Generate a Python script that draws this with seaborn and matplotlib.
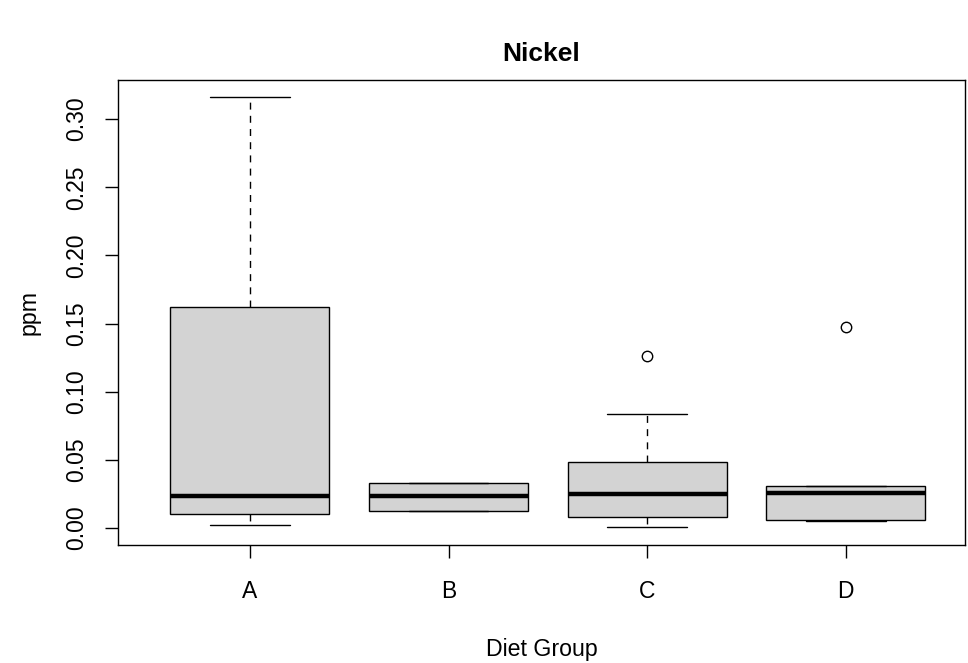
import matplotlib
matplotlib.use("Agg")
import matplotlib.pyplot as plt
import seaborn as sns
import pandas as pd

# values (ppm), one small sample per diet group
groups = ["A", "B", "C", "D"]
group_a = [0.0022, 0.0105, 0.0232, 0.162, 0.3165]
group_b = [0.0128, 0.0128, 0.0236, 0.0330, 0.0330]
group_c = [0.0005, 0.004, 0.0082, 0.015, 0.0250, 0.035, 0.0484, 0.0836, 0.1265]
group_d = [0.0048, 0.0052, 0.0060, 0.020, 0.0258, 0.029, 0.0305, 0.0308, 0.1475]
yticks = [0.00, 0.05, 0.10, 0.15, 0.20, 0.25, 0.30]

#Long table for seaborn
df = pd.DataFrame({
    "group": ["A"] * len(group_a) + ["B"] * len(group_b)
             + ["C"] * len(group_c) + ["D"] * len(group_d),
    "ppm": group_a + group_b + group_c + group_d,
})

sns.set_theme(style="white")
plt.rcParams["font.family"] = ["Liberation Sans", "DejaVu Sans"]

fig = plt.figure(figsize=(9.68, 6.63), dpi=100)
ax = fig.add_axes([118 / 968, 118 / 663, 847 / 968, 465 / 663])

sns.boxplot(
    data=df, x="group", y="ppm", order=groups, ax=ax,
    color="#D3D3D3", linecolor="black", linewidth=1, width=0.8,
    saturation=1,
    medianprops={"linewidth": 3.2, "color": "black", "solid_capstyle": "butt"},
    whiskerprops={"linestyle": (0, (5, 4.5)), "linewidth": 1},
    capprops={"linewidth": 1},
    flierprops={"marker": "o", "markerfacecolor": "none",
                "markeredgecolor": "black", "markersize": 7.5,
                "markeredgewidth": 1},
)

ax.set_xlim(-0.664, 3.6)
ax.set_ylim(-0.0125, 0.3287)
ax.set_yticks(yticks)
ax.set_yticklabels([f"{v:.2f}" for v in yticks])

for s in ax.spines.values():
    s.set_color("black")
    s.set_linewidth(1)

ax.tick_params(axis="both", direction="out", length=9.5, width=1,
               color="black", labelsize=16.5, labelcolor="black",
               left=True, bottom=True)
ax.tick_params(axis="y", labelrotation=90, pad=12)
ax.tick_params(axis="x", pad=16)
for lab in ax.get_yticklabels():
    lab.set_va("center")

ax.set_xlabel("Diet Group", fontsize=16.7, labelpad=25, color="black")
ax.set_ylabel("ppm", fontsize=16.7, labelpad=18, color="black")
ax.set_title("Nickel", fontsize=19, fontweight="bold", pad=14, color="black")

fig.savefig("out.png", dpi=100)
